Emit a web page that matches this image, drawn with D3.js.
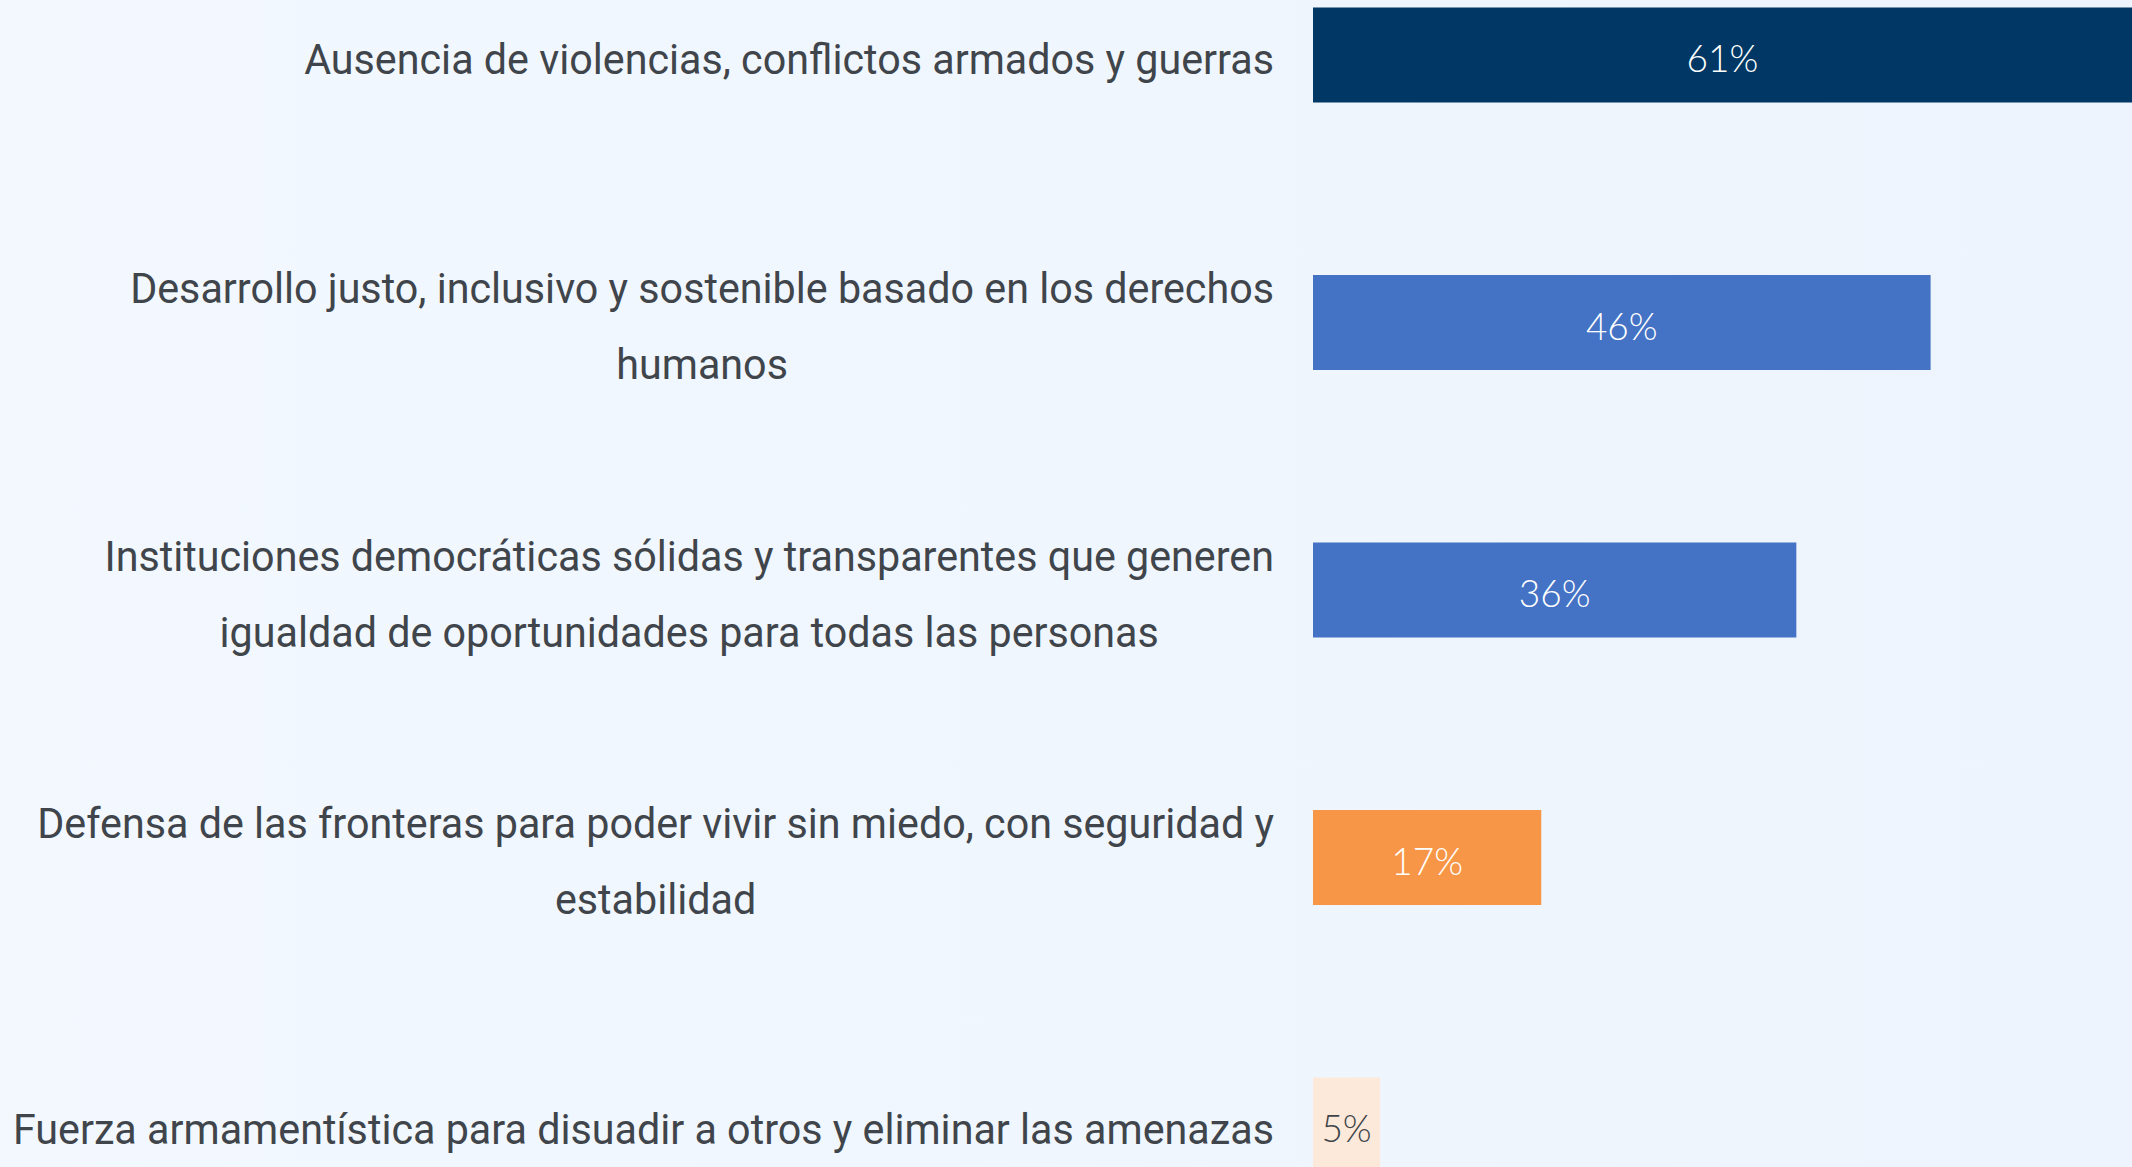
<!DOCTYPE html>
<html>
<head>
<meta charset="utf-8">
<script src="https://cdn.jsdelivr.net/npm/d3@7"></script>
<style>
  html, body { margin: 0; padding: 0; background: #eff5fd; overflow: hidden; }
  svg { display: block; }
</style>
</head>
<body>
<svg id="drawing_region"></svg>
<script>
// line breaks follow the picture
const categories = [
    'Ausencia de violencias, conflictos armados y guerras',
    'Desarrollo justo, inclusivo y sostenible basado en los derechos\nhumanos',
    'Instituciones democráticas sólidas y transparentes que generen\nigualdad de oportunidades para todas las personas',
    'Defensa de las fronteras para poder vivir sin miedo, con seguridad y\nestabilidad',
    'Fuerza armamentística para disuadir a otros y eliminar las amenazas'
];
const values = [61, 46, 36, 17, 5];
const valueLabels = ['61%', '46%', '36%', '17%', '5%'];
const colors = ['#003764', '#4472c4', '#4472c4', '#f79646', '#fde9d9'];
const labelColors = ['#ffffff', '#ffffff', '#ffffff', '#ffffff', '#3f4449'];

class BarChart {

    constructor(config) {
        this.config = config;
        this.init();
    }

    init() {
        let self = this;
        const c = self.config;

        self.svg = d3.select(c.parent)
            .attr('width', c.width)
            .attr('height', c.height);

        const grad = self.svg.append('defs').append('linearGradient')
            .attr('id', 'bg').attr('x1', 0).attr('x2', 1).attr('y1', 0).attr('y2', 0);
        grad.append('stop').attr('offset', '0%').attr('stop-color', '#f2f8fe');
        grad.append('stop').attr('offset', '100%').attr('stop-color', '#eef4fd');
        self.svg.append('rect')
            .attr('width', c.width).attr('height', c.height)
            .attr('fill', 'url(#bg)');

        self.x = d3.scaleLinear()
            .domain([0, 61])
            .range([c.barLeft, c.width]);
        self.y = d3.scalePoint()
            .domain(categories)
            .range([55, 1125]);
    }

    update() {
        let self = this;
        const c = self.config;

        const rows = categories.map((cat, i) => ({
            cat: cat, value: values[i], label: valueLabels[i],
            color: colors[i], textColor: labelColors[i]
        }));

        self.svg.selectAll('.bar')
            .data(rows)
            .enter()
            .append('rect')
            .attr('class', 'bar')
            .attr('x', self.x(0))
            .attr('y', d => self.y(d.cat) - c.barHeight / 2)
            .attr('width', d => self.x(d.value) - self.x(0))
            .attr('height', c.barHeight)
            .attr('fill', d => d.color);

        self.svg.selectAll('.value')
            .data(rows)
            .enter()
            .append('text')
            .attr('class', 'value')
            .attr('x', d => (self.x(0) + self.x(d.value)) / 2)
            .attr('y', d => self.y(d.cat) + 17)
            .attr('text-anchor', 'middle')
            .style('font-family', 'Lato, "Open Sans", sans-serif')
            .style('font-weight', 300)
            .style('font-size', '37px')
            .style('fill', d => d.textColor)
            .text(d => d.label);

        // category labels: centred lines inside a block whose right edge sits left of the bars
        const labelG = self.svg.append('g')
            .attr('transform', `translate(${c.labelRight},0)`);
        const inner = labelG.append('g');

        const groups = inner.selectAll('.cat')
            .data(rows)
            .enter()
            .append('text')
            .attr('class', 'cat')
            .attr('text-anchor', 'middle')
            .style('font-family', 'Roboto, sans-serif')
            .style('font-size', '42px')
            .style('fill', '#40454b');

        groups.each(function (d) {
            const lines = d.cat.split('\n');
            const el = d3.select(this);
            const n = lines.length;
            lines.forEach((line, j) => {
                el.append('tspan')
                    .attr('y', self.y(d.cat) + 19 + (j - (n - 1) / 2) * c.lineHeight)
                    .text(line);
            });
        });

        // squeeze horizontally to match the narrow face of the original
        const firstW = groups.filter((d, i) => i === 0).node().getComputedTextLength();
        const sx = c.firstLabelWidth / firstW;
        inner.attr('transform', `scale(${sx},1)`);

        groups.each(function () {
            const el = d3.select(this);
            let w = 0;
            el.selectAll('tspan').each(function () {
                w = Math.max(w, this.getComputedTextLength());
            });
            el.selectAll('tspan').attr('x', -w / 2);
        });
    }
}

const chart = new BarChart({
    parent: '#drawing_region',
    width: 2132,
    height: 1167,
    barLeft: 1313,
    barHeight: 95,
    labelRight: 1274,
    lineHeight: 76,
    firstLabelWidth: 970
});
chart.update();
</script>
</body>
</html>
